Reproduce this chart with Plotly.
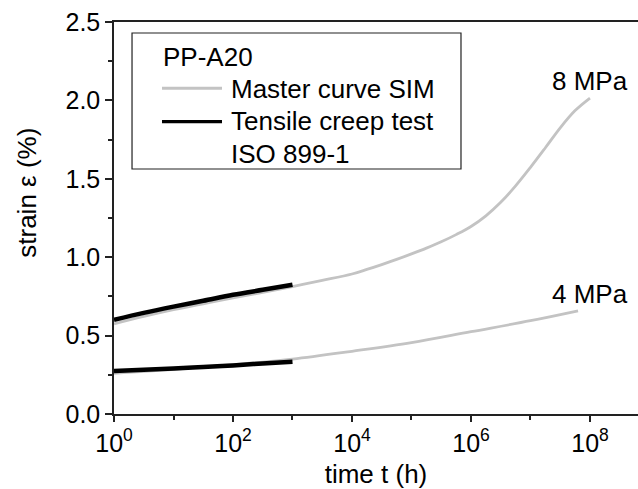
import plotly.graph_objects as go

# ---- data ----
time_master_8 = [1, 3.16, 10, 31.6, 100, 316, 1e3, 3.16e3, 1e4, 1.78e4, 3.16e4, 5.62e4, 1e5, 1.78e5, 3.16e5, 5.62e5,
                 1e6, 1.78e6, 3.16e6, 5.62e6, 1e7, 1.78e7, 3.16e7, 5.62e7, 1e8]
strain_master_8 = [0.575, 0.622, 0.665, 0.703, 0.74, 0.776, 0.813, 0.852, 0.893, 0.922, 0.953, 0.986, 1.021, 1.058, 1.098, 1.144,
                   1.196, 1.264, 1.35, 1.455, 1.573, 1.698, 1.825, 1.935, 2.015]

time_master_4 = [1, 10, 100, 1e3, 1e4, 1e5, 1e6, 1e7, 6.3e7]
strain_master_4 = [0.26, 0.285, 0.315, 0.35, 0.40, 0.455, 0.525, 0.595, 0.658]

time_test = [1, 3.16, 10, 31.6, 100, 316, 1000]
strain_test_8 = [0.60, 0.645, 0.685, 0.722, 0.76, 0.792, 0.824]
strain_test_4 = [0.275, 0.282, 0.29, 0.30, 0.31, 0.322, 0.334]

x_major = [1, 1e2, 1e4, 1e6, 1e8]
x_major_text = ["10<sup>0</sup>", "10<sup>2</sup>", "10<sup>4</sup>", "10<sup>6</sup>", "10<sup>8</sup>"]
x_minor = [10, 1e3, 1e5, 1e7]

labels = ["8 MPa", "4 MPa"]
label_pos = [(8.0, 2.125), (8.0, 0.766)]

legend_title = "PP-A20"
legend_entries = ["Master curve SIM", "Tensile creep test", "ISO 899-1"]

FONT = "Arial, Liberation Sans, sans-serif"
GRAY = "#c3c3c3"
TXT = 26

fig = go.Figure()
fig.add_trace(go.Scatter(x=time_master_8, y=strain_master_8, mode="lines", line=dict(color=GRAY, width=2.8, shape="spline"),
                         name="Master curve SIM 8 MPa"))
fig.add_trace(go.Scatter(x=time_master_4, y=strain_master_4, mode="lines", line=dict(color=GRAY, width=2.8, shape="spline"),
                         name="Master curve SIM 4 MPa"))
fig.add_trace(go.Scatter(x=time_test, y=strain_test_8, mode="lines", line=dict(color="black", width=4.5, shape="spline"),
                         name="Tensile creep test 8 MPa"))
fig.add_trace(go.Scatter(x=time_test, y=strain_test_4, mode="lines", line=dict(color="black", width=4.5, shape="spline"),
                         name="Tensile creep test 4 MPa"))

for txt, (lx, ly) in zip(labels, label_pos):
    fig.add_annotation(x=lx, y=ly, xref="x", yref="y", text=txt, showarrow=False,
                       font=dict(size=TXT, color="black", family=FONT), xanchor="center", yanchor="middle")

# y axis title
fig.add_annotation(x=-0.166, y=0.5645, xref="paper", yref="paper", text="strain ε (%)", textangle=-90,
                   showarrow=False, font=dict(size=TXT, color="black", family=FONT), xanchor="center", yanchor="middle")

# ---- legend box (drawn in paper coordinates) ----
fig.add_shape(type="rect", xref="paper", yref="paper", x0=0.0344, x1=0.6622, y0=0.625, y1=0.9719,
              line=dict(color="#222", width=1.2), fillcolor="rgba(255,255,255,0)", layer="above")
fig.add_shape(type="line", xref="paper", yref="paper", x0=0.0916, x1=0.2061, y0=0.8308, y1=0.8308,
              line=dict(color=GRAY, width=3))
fig.add_shape(type="line", xref="paper", yref="paper", x0=0.0916, x1=0.2061, y0=0.7457, y1=0.7457,
              line=dict(color="black", width=3.3))
fig.add_annotation(x=0.0896, y=0.9107, xref="paper", yref="paper", text=legend_title, showarrow=False,
                   font=dict(size=TXT, color="black", family=FONT), xanchor="left", yanchor="middle")
for txt, ypos in zip(legend_entries, [0.8286, 0.7462, 0.662]):
    fig.add_annotation(x=0.2194, y=ypos, xref="paper", yref="paper", text=txt, showarrow=False,
                       font=dict(size=TXT, color="black", family=FONT), xanchor="left", yanchor="middle")

fig.update_layout(
    width=638, height=489,
    margin=dict(l=114, r=0, t=22, b=75),
    paper_bgcolor="white", plot_bgcolor="white",
    font=dict(family=FONT, color="black", size=25),
    showlegend=False,
    xaxis=dict(
        type="log", range=[0, 8.807],
        tickmode="array", tickvals=x_major, ticktext=x_major_text,
        ticks="outside", ticklen=6, tickwidth=1.5, tickcolor="#222",
        minor=dict(tickmode="array", tickvals=x_minor, ticks="outside", ticklen=4, tickwidth=1.5, tickcolor="#222"),
        showline=True, linecolor="#222", linewidth=1.5, mirror=True,
        showgrid=False, zeroline=False,
        tickfont=dict(size=25),
        title=dict(text="time t (h)", font=dict(size=TXT), standoff=9),
    ),
    yaxis=dict(
        range=[0, 2.5], tickmode="linear", tick0=0, dtick=0.5, tickformat=".1f",
        ticks="outside", ticklen=7, tickwidth=1.5, tickcolor="#222",
        minor=dict(dtick=0.25, ticks="outside", ticklen=4, tickwidth=1.5, tickcolor="#222"),
        showline=True, linecolor="#222", linewidth=1.5,
        showgrid=False, zeroline=False,
        tickfont=dict(size=25),
    ),
)

fig.write_html("out.html")
